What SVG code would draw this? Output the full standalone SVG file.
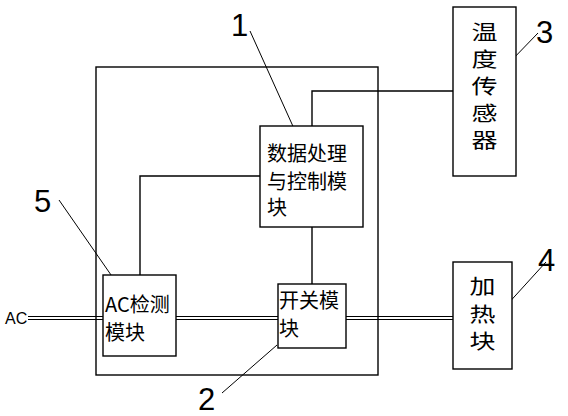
<svg xmlns="http://www.w3.org/2000/svg" width="568" height="416" viewBox="0 0 568 416">
<style>
.box{fill:#fff;stroke:#000;stroke-width:1.4}
.ln{fill:none;stroke:#000;stroke-width:1.4}
.thin{fill:none;stroke:#000;stroke-width:1}
.t{font-family:"Noto Sans CJK SC","Noto Sans",sans-serif;font-size:20px;fill:#000}
.tw{font-family:"Noto Sans CJK SC","Noto Sans",sans-serif;font-size:20px;fill:#000;text-anchor:middle}
.num{font-family:"DejaVu Sans ExtraLight","Liberation Sans",sans-serif;font-size:31px;fill:#000}
.ac{font-family:"Liberation Sans",sans-serif;font-size:16px;fill:#000}
</style>
<rect width="568" height="416" fill="#fff"/>
<g id="outer"><rect class="box" x="96" y="67" width="282" height="308" fill="none"/></g>
<g id="connectors">
<polyline class="ln" points="312,126 312,91 453,91"/>
<polyline class="ln" points="260,176 140,176 140,275"/>
<line class="ln" x1="312" y1="227" x2="312" y2="284"/>
<g class="thin">
<line x1="28" y1="316.5" x2="103" y2="316.5"/>
<line x1="28" y1="319.5" x2="103" y2="319.5"/>
<line x1="176" y1="316.5" x2="278" y2="316.5"/>
<line x1="176" y1="319.5" x2="278" y2="319.5"/>
<line x1="346" y1="316.5" x2="453" y2="316.5"/>
<line x1="346" y1="319.5" x2="453" y2="319.5"/>
</g>
<g class="thin">
<line x1="250" y1="31" x2="296" y2="133"/>
<line x1="509" y1="63" x2="538" y2="33"/>
<line x1="505" y1="307" x2="546" y2="262"/>
<line x1="59" y1="200" x2="118" y2="285"/>
<line x1="222" y1="393" x2="277" y2="345"/>
</g>
</g>
<g id="n1"><rect class="box" x="260" y="126" width="103" height="101"/>
<text class="t" x="267" y="161">数据处理</text>
<text class="t" x="267" y="189">与控制模</text>
<text class="t" x="267" y="215">块</text></g>
<g id="n3"><rect class="box" x="453" y="7" width="63" height="169"/>
<g transform="translate(484.5,0) scale(1.3,1)">
<text class="tw" x="0" y="40">温</text>
<text class="tw" x="0" y="67">度</text>
<text class="tw" x="0" y="94">传</text>
<text class="tw" x="0" y="121">感</text>
<text class="tw" x="0" y="148">器</text></g></g>
<g id="n5"><rect class="box" x="103" y="275" width="73" height="81"/>
<text class="t" x="105" y="312">AC检测</text>
<text class="t" x="105" y="340">模块</text></g>
<g id="n2"><rect class="box" x="278" y="284" width="68" height="64"/>
<text class="t" x="279" y="308">开关模</text>
<text class="t" x="279" y="336">块</text></g>
<g id="n4"><rect class="box" x="453" y="262" width="59" height="107"/>
<g transform="translate(482.5,0) scale(1.3,1)">
<text class="tw" x="0" y="294">加</text>
<text class="tw" x="0" y="322">热</text>
<text class="tw" x="0" y="349">块</text></g></g>
<g id="labels">
<text class="ac" x="5" y="324">AC</text>
<text class="num" x="231" y="36">1</text>
<text class="num" x="536" y="43">3</text>
<text class="num" x="538" y="271">4</text>
<text class="num" x="34" y="212">5</text>
<text class="num" x="198" y="410">2</text>
</g>
</svg>
